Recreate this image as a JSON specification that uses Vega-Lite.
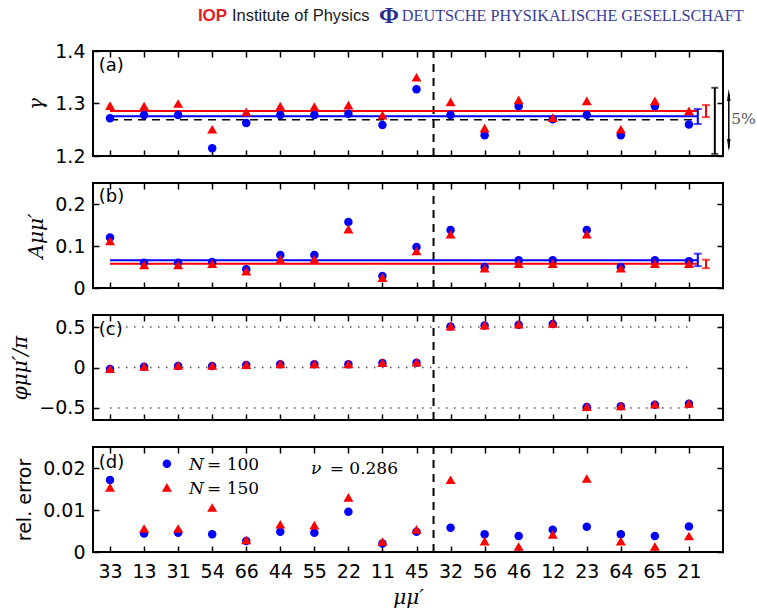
{
  "$schema": "https://vega.github.io/schema/vega-lite/v6.json",
  "padding": {"left": 9, "top": 2, "right": 0, "bottom": 0},
  "background": "white",
  "spacing": 27,
  "bounds": "flush",
  "config": {
    "view": {"stroke": "black", "strokeWidth": 2},
    "axis": {"domain": false, "grid": false, "tickColor": "black", "tickWidth": 1.5, "tickSize": -6,
      "labelFont": "DejaVu Sans", "labelFontSize": 19, "labelColor": "black", "labelPadding": 14,
      "titleFont": "DejaVu Serif", "titleFontSize": 20, "titleFontWeight": "normal", "titleColor": "black", "titlePadding": 8}
  },
  "datasets": {
    "pts": [
      {"i":0,"N":"100","g":1.272,"A":0.120,"p":-0.02,"e":0.01713},
      {"i":1,"N":"100","g":1.278,"A":0.060,"p":0.008,"e":0.0044},
      {"i":2,"N":"100","g":1.278,"A":0.060,"p":0.02,"e":0.0046},
      {"i":3,"N":"100","g":1.2146,"A":0.062,"p":0.02,"e":0.0042},
      {"i":4,"N":"100","g":1.263,"A":0.0444,"p":0.03,"e":0.0026},
      {"i":5,"N":"100","g":1.278,"A":0.0786,"p":0.04,"e":0.0048},
      {"i":6,"N":"100","g":1.278,"A":0.0786,"p":0.04,"e":0.0046},
      {"i":7,"N":"100","g":1.2806,"A":0.157,"p":0.04,"e":0.0096},
      {"i":8,"N":"100","g":1.259,"A":0.0286,"p":0.055,"e":0.002},
      {"i":9,"N":"100","g":1.327,"A":0.0976,"p":0.06,"e":0.0048},
      {"i":10,"N":"100","g":1.278,"A":0.138,"p":0.508,"e":0.0058},
      {"i":11,"N":"100","g":1.2394,"A":0.050,"p":0.52,"e":0.0042},
      {"i":12,"N":"100","g":1.295,"A":0.066,"p":0.53,"e":0.0038},
      {"i":13,"N":"100","g":1.270,"A":0.066,"p":0.54,"e":0.0053},
      {"i":14,"N":"100","g":1.278,"A":0.138,"p":-0.49,"e":0.006},
      {"i":15,"N":"100","g":1.2394,"A":0.050,"p":-0.48,"e":0.0042},
      {"i":16,"N":"100","g":1.295,"A":0.066,"p":-0.46,"e":0.0038},
      {"i":17,"N":"100","g":1.260,"A":0.064,"p":-0.45,"e":0.0061},
      {"i":0,"N":"150","g":1.296,"A":0.112,"p":-0.015,"e":0.0154},
      {"i":1,"N":"150","g":1.295,"A":0.055,"p":0.013,"e":0.0056},
      {"i":2,"N":"150","g":1.300,"A":0.055,"p":0.025,"e":0.0056},
      {"i":3,"N":"150","g":1.251,"A":0.058,"p":0.025,"e":0.0106},
      {"i":4,"N":"150","g":1.284,"A":0.040,"p":0.035,"e":0.0029},
      {"i":5,"N":"150","g":1.295,"A":0.068,"p":0.045,"e":0.0066},
      {"i":6,"N":"150","g":1.294,"A":0.068,"p":0.045,"e":0.0064},
      {"i":7,"N":"150","g":1.297,"A":0.140,"p":0.045,"e":0.0130},
      {"i":8,"N":"150","g":1.278,"A":0.0246,"p":0.06,"e":0.0025},
      {"i":9,"N":"150","g":1.350,"A":0.088,"p":0.065,"e":0.0054},
      {"i":10,"N":"150","g":1.303,"A":0.128,"p":0.513,"e":0.0172},
      {"i":11,"N":"150","g":1.253,"A":0.047,"p":0.525,"e":0.0026},
      {"i":12,"N":"150","g":1.307,"A":0.058,"p":0.535,"e":0.0013},
      {"i":13,"N":"150","g":1.273,"A":0.058,"p":0.545,"e":0.0042},
      {"i":14,"N":"150","g":1.305,"A":0.128,"p":-0.485,"e":0.0175},
      {"i":15,"N":"150","g":1.251,"A":0.047,"p":-0.475,"e":0.0026},
      {"i":16,"N":"150","g":1.305,"A":0.058,"p":-0.455,"e":0.0013},
      {"i":17,"N":"150","g":1.286,"A":0.058,"p":-0.445,"e":0.0038}
    ]
  },
  "vconcat": [
    {
      "width": 630, "height": 105,
      "resolve": {"axis": {"x": "independent", "y": "independent"}},
      "layer": [
        {"data": {"values": [{"i": 9.5, "lo": 1.2, "hi": 1.4}]},
         "mark": {"type": "rule", "strokeDash": [8, 6], "strokeWidth": 2, "color": "black"},
         "encoding": {
           "x": {"field": "i", "type": "quantitative", "scale": {"domain": [-0.5, 18], "nice": false, "zero": false}, "axis": {"orient": "top", "values": [0,1,2,3,4,5,6,7,8,9,10,11,12,13,14,15,16,17], "labels": false, "title": null}},
           "y": {"field": "lo", "type": "quantitative", "scale": {"domain": [1.2, 1.4], "nice": false, "zero": false}, "axis": {"orient": "right", "values": [1.2, 1.3, 1.4], "labels": false, "title": null}},
           "y2": {"field": "hi"}}},
        {"data": {"values": [{"x1": 0, "x2": 17.25, "v": 1.2756, "N": "100"}, {"x1": 0, "x2": 17.25, "v": 1.2857, "N": "150"}]},
         "mark": {"type": "rule", "strokeWidth": 2},
         "encoding": {
           "x": {"field": "x1", "type": "quantitative", "scale": {"domain": [-0.5, 18], "nice": false, "zero": false}, "axis": null},
           "x2": {"field": "x2"},
           "y": {"field": "v", "type": "quantitative", "scale": {"domain": [1.2, 1.4], "nice": false, "zero": false}, "axis": null},
           "color": {"field": "N", "type": "nominal", "scale": {"domain": ["100", "150"], "range": ["#0000ff", "#ff0000"]}, "legend": null}}},
        {"data": {"values": [{"x1": 0, "x2": 17.25, "v": 1.269}]},
         "mark": {"type": "rule", "strokeWidth": 1.5, "strokeDash": [8, 6], "color": "black"},
         "encoding": {
           "x": {"field": "x1", "type": "quantitative", "scale": {"domain": [-0.5, 18], "nice": false, "zero": false}, "axis": null},
           "x2": {"field": "x2"},
           "y": {"field": "v", "type": "quantitative", "scale": {"domain": [1.2, 1.4], "nice": false, "zero": false}, "axis": null}}},
        {"data": {"name": "pts"},
         "mark": {"type": "point", "filled": true, "opacity": 1, "strokeWidth": 0},
         "encoding": {
           "x": {"field": "i", "type": "quantitative", "scale": {"domain": [-0.5, 18], "nice": false, "zero": false}, "axis": {"orient": "bottom", "values": [0,1,2,3,4,5,6,7,8,9,10,11,12,13,14,15,16,17], "labels": false, "title": null}},
           "y": {"field": "g", "type": "quantitative", "scale": {"domain": [1.2, 1.4], "nice": false, "zero": false}, "axis": {"orient": "left", "values": [1.2, 1.3, 1.4], "format": ".1f", "title": "γ", "titleFontStyle": "italic"}},
           "color": {"field": "N", "type": "nominal", "scale": {"domain": ["100", "150"], "range": ["#0000ff", "#ff0000"]}, "legend": null},
           "shape": {"field": "N", "type": "nominal", "scale": {"domain": ["100", "150"], "range": ["circle", "triangle-up"]}, "legend": null},
           "size": {"field": "N", "type": "nominal", "scale": {"domain": ["100", "150"], "range": [72, 100]}, "legend": null}}},
        {"data": {"values": [{"x": 17.26, "lo": 1.261, "hi": 1.2895, "N": "100"}, {"x": 17.5, "lo": 1.274, "hi": 1.297, "N": "150"}]},
         "mark": {"type": "errorbar", "ticks": {"size": 8}, "thickness": 2},
         "encoding": {
           "x": {"field": "x", "type": "quantitative", "scale": {"domain": [-0.5, 18], "nice": false, "zero": false}, "axis": null},
           "y": {"field": "lo", "type": "quantitative", "scale": {"domain": [1.2, 1.4], "nice": false, "zero": false}, "axis": null},
           "y2": {"field": "hi"},
           "color": {"field": "N", "type": "nominal", "scale": {"domain": ["100", "150"], "range": ["#0000ff", "#ff0000"]}, "legend": null}}},
        {"data": {"values": [{"x": 17.76, "lo": 1.204, "hi": 1.33}]},
         "mark": {"type": "errorbar", "ticks": {"size": 7}, "thickness": 2, "color": "black"},
         "encoding": {
           "x": {"field": "x", "type": "quantitative", "scale": {"domain": [-0.5, 18], "nice": false, "zero": false}, "axis": null},
           "y": {"field": "lo", "type": "quantitative", "scale": {"domain": [1.2, 1.4], "nice": false, "zero": false}, "axis": null},
           "y2": {"field": "hi"}}},
        {"data": {"values": [{"x": 18.17, "lo": 1.215, "hi": 1.318}]},
         "mark": {"type": "rule", "strokeWidth": 1.5, "color": "black"},
         "encoding": {
           "x": {"field": "x", "type": "quantitative", "scale": {"domain": [-0.5, 18], "nice": false, "zero": false}, "axis": null},
           "y": {"field": "lo", "type": "quantitative", "scale": {"domain": [1.2, 1.4], "nice": false, "zero": false}, "axis": null},
           "y2": {"field": "hi"}}},
        {"data": {"values": [{"x": 18.17, "y": 1.3124}]},
         "mark": {"type": "point", "shape": "wedge", "filled": true, "size": 200, "color": "black", "opacity": 1, "strokeWidth": 0},
         "encoding": {
           "x": {"field": "x", "type": "quantitative", "scale": {"domain": [-0.5, 18], "nice": false, "zero": false}, "axis": null},
           "y": {"field": "y", "type": "quantitative", "scale": {"domain": [1.2, 1.4], "nice": false, "zero": false}, "axis": null}}},
        {"data": {"values": [{"x": 18.17, "y": 1.2248}]},
         "mark": {"type": "point", "shape": "wedge", "angle": 180, "filled": true, "size": 200, "color": "black", "opacity": 1, "strokeWidth": 0},
         "encoding": {
           "x": {"field": "x", "type": "quantitative", "scale": {"domain": [-0.5, 18], "nice": false, "zero": false}, "axis": null},
           "y": {"field": "y", "type": "quantitative", "scale": {"domain": [1.2, 1.4], "nice": false, "zero": false}, "axis": null}}},
        {"data": {"values": [{"x": 18.6, "y": 1.27, "t": "5%"}]},
         "mark": {"type": "text", "font": "DejaVu Serif", "fontSize": 15.5, "color": "#555555", "align": "center", "baseline": "middle"},
         "encoding": {
           "x": {"field": "x", "type": "quantitative", "scale": {"domain": [-0.5, 18], "nice": false, "zero": false}, "axis": null},
           "y": {"field": "y", "type": "quantitative", "scale": {"domain": [1.2, 1.4], "nice": false, "zero": false}, "axis": null},
           "text": {"field": "t"}}},
        {"data": {"values": [{"x": -0.33, "y": 1.371, "t": "(a)"}]},
         "mark": {"type": "text", "font": "DejaVu Sans", "fontSize": 18, "color": "black", "align": "left", "baseline": "middle"},
         "encoding": {
           "x": {"field": "x", "type": "quantitative", "scale": {"domain": [-0.5, 18], "nice": false, "zero": false}, "axis": null},
           "y": {"field": "y", "type": "quantitative", "scale": {"domain": [1.2, 1.4], "nice": false, "zero": false}, "axis": null},
           "text": {"field": "t"}}},
        {"data": {"values": [{"x": 2.58, "y": 1.4667, "t": "IOP"}]},
         "mark": {"type": "text", "font": "Liberation Sans", "fontSize": 17, "fontWeight": "bold", "color": "#e31e26", "align": "left", "baseline": "middle"},
         "encoding": {
           "x": {"field": "x", "type": "quantitative", "scale": {"domain": [-0.5, 18], "nice": false, "zero": false}, "axis": null},
           "y": {"field": "y", "type": "quantitative", "scale": {"domain": [1.2, 1.4], "nice": false, "zero": false}, "axis": null},
           "text": {"field": "t"}}},
        {"data": {"values": [{"x": 3.58, "y": 1.4667, "t": "Institute of Physics"}]},
         "mark": {"type": "text", "font": "Liberation Sans", "fontSize": 16.5, "color": "#1a1a1a", "align": "left", "baseline": "middle"},
         "encoding": {
           "x": {"field": "x", "type": "quantitative", "scale": {"domain": [-0.5, 18], "nice": false, "zero": false}, "axis": null},
           "y": {"field": "y", "type": "quantitative", "scale": {"domain": [1.2, 1.4], "nice": false, "zero": false}, "axis": null},
           "text": {"field": "t"}}},
        {"data": {"values": [{"x": 8.19, "y": 1.4667, "t": "Φ"}]},
         "mark": {"type": "text", "font": "Liberation Serif", "fontSize": 24, "fontWeight": "bold", "color": "#2b2f8f", "align": "center", "baseline": "middle"},
         "encoding": {
           "x": {"field": "x", "type": "quantitative", "scale": {"domain": [-0.5, 18], "nice": false, "zero": false}, "axis": null},
           "y": {"field": "y", "type": "quantitative", "scale": {"domain": [1.2, 1.4], "nice": false, "zero": false}, "axis": null},
           "text": {"field": "t"}}},
        {"data": {"values": [{"x": 8.57, "y": 1.4667, "t": "DEUTSCHE PHYSIKALISCHE GESELLSCHAFT"}]},
         "mark": {"type": "text", "font": "Liberation Serif", "fontSize": 16.2, "color": "#3a3d99", "align": "left", "baseline": "middle"},
         "encoding": {
           "x": {"field": "x", "type": "quantitative", "scale": {"domain": [-0.5, 18], "nice": false, "zero": false}, "axis": null},
           "y": {"field": "y", "type": "quantitative", "scale": {"domain": [1.2, 1.4], "nice": false, "zero": false}, "axis": null},
           "text": {"field": "t"}}}
      ]
    },
    {
      "width": 630, "height": 105,
      "resolve": {"axis": {"x": "independent", "y": "independent"}},
      "layer": [
        {"data": {"values": [{"i": 9.5, "lo": 0, "hi": 0.25}]},
         "mark": {"type": "rule", "strokeDash": [8, 6], "strokeWidth": 2, "color": "black"},
         "encoding": {
           "x": {"field": "i", "type": "quantitative", "scale": {"domain": [-0.5, 18], "nice": false, "zero": false}, "axis": {"orient": "top", "values": [0,1,2,3,4,5,6,7,8,9,10,11,12,13,14,15,16,17], "labels": false, "title": null}},
           "y": {"field": "lo", "type": "quantitative", "scale": {"domain": [0, 0.25], "nice": false, "zero": false}, "axis": {"orient": "right", "values": [0, 0.1, 0.2], "labels": false, "title": null}},
           "y2": {"field": "hi"}}},
        {"data": {"values": [{"x1": 0, "x2": 17.25, "v": 0.066, "N": "100"}, {"x1": 0, "x2": 17.25, "v": 0.058, "N": "150"}]},
         "mark": {"type": "rule", "strokeWidth": 2},
         "encoding": {
           "x": {"field": "x1", "type": "quantitative", "scale": {"domain": [-0.5, 18], "nice": false, "zero": false}, "axis": null},
           "x2": {"field": "x2"},
           "y": {"field": "v", "type": "quantitative", "scale": {"domain": [0, 0.25], "nice": false, "zero": false}, "axis": null},
           "color": {"field": "N", "type": "nominal", "scale": {"domain": ["100", "150"], "range": ["#0000ff", "#ff0000"]}, "legend": null}}},
        {"data": {"name": "pts"},
         "mark": {"type": "point", "filled": true, "opacity": 1, "strokeWidth": 0},
         "encoding": {
           "x": {"field": "i", "type": "quantitative", "scale": {"domain": [-0.5, 18], "nice": false, "zero": false}, "axis": {"orient": "bottom", "values": [0,1,2,3,4,5,6,7,8,9,10,11,12,13,14,15,16,17], "labels": false, "title": null}},
           "y": {"field": "A", "type": "quantitative", "scale": {"domain": [0, 0.25], "nice": false, "zero": false}, "axis": {"orient": "left", "values": [0, 0.1, 0.2], "labelExpr": "datum.value == 0 ? '0' : format(datum.value, '.1f')", "title": "Aμμ′", "titleFontStyle": "italic"}},
           "color": {"field": "N", "type": "nominal", "scale": {"domain": ["100", "150"], "range": ["#0000ff", "#ff0000"]}, "legend": null},
           "shape": {"field": "N", "type": "nominal", "scale": {"domain": ["100", "150"], "range": ["circle", "triangle-up"]}, "legend": null},
           "size": {"field": "N", "type": "nominal", "scale": {"domain": ["100", "150"], "range": [72, 100]}, "legend": null}}},
        {"data": {"values": [{"x": 17.26, "lo": 0.052, "hi": 0.0817, "N": "100"}, {"x": 17.5, "lo": 0.047, "hi": 0.0674, "N": "150"}]},
         "mark": {"type": "errorbar", "ticks": {"size": 8}, "thickness": 2},
         "encoding": {
           "x": {"field": "x", "type": "quantitative", "scale": {"domain": [-0.5, 18], "nice": false, "zero": false}, "axis": null},
           "y": {"field": "lo", "type": "quantitative", "scale": {"domain": [0, 0.25], "nice": false, "zero": false}, "axis": null},
           "y2": {"field": "hi"},
           "color": {"field": "N", "type": "nominal", "scale": {"domain": ["100", "150"], "range": ["#0000ff", "#ff0000"]}, "legend": null}}},
        {"data": {"values": [{"x": -0.33, "y": 0.2167, "t": "(b)"}]},
         "mark": {"type": "text", "font": "DejaVu Sans", "fontSize": 18, "color": "black", "align": "left", "baseline": "middle"},
         "encoding": {
           "x": {"field": "x", "type": "quantitative", "scale": {"domain": [-0.5, 18], "nice": false, "zero": false}, "axis": null},
           "y": {"field": "y", "type": "quantitative", "scale": {"domain": [0, 0.25], "nice": false, "zero": false}, "axis": null},
           "text": {"field": "t"}}}
      ]
    },
    {
      "width": 630, "height": 105,
      "resolve": {"axis": {"x": "independent", "y": "independent"}},
      "layer": [
        {"data": {"values": [{"i": 9.5, "lo": -0.65, "hi": 0.65}]},
         "mark": {"type": "rule", "strokeDash": [8, 6], "strokeWidth": 2, "color": "black"},
         "encoding": {
           "x": {"field": "i", "type": "quantitative", "scale": {"domain": [-0.5, 18], "nice": false, "zero": false}, "axis": {"orient": "top", "values": [0,1,2,3,4,5,6,7,8,9,10,11,12,13,14,15,16,17], "labels": false, "title": null}},
           "y": {"field": "lo", "type": "quantitative", "scale": {"domain": [-0.65, 0.65], "nice": false, "zero": false}, "axis": {"orient": "right", "values": [-0.5, 0, 0.5], "labels": false, "title": null}},
           "y2": {"field": "hi"}}},
        {"data": {"values": [{"x1": 0, "x2": 17, "v": 0.5}, {"x1": 0, "x2": 17, "v": 0}, {"x1": 0, "x2": 17, "v": -0.5}]},
         "mark": {"type": "rule", "strokeWidth": 1.5, "strokeDash": [1.5, 6.5], "color": "#555555"},
         "encoding": {
           "x": {"field": "x1", "type": "quantitative", "scale": {"domain": [-0.5, 18], "nice": false, "zero": false}, "axis": null},
           "x2": {"field": "x2"},
           "y": {"field": "v", "type": "quantitative", "scale": {"domain": [-0.65, 0.65], "nice": false, "zero": false}, "axis": null}}},
        {"data": {"name": "pts"},
         "mark": {"type": "point", "filled": true, "opacity": 1, "strokeWidth": 0},
         "encoding": {
           "x": {"field": "i", "type": "quantitative", "scale": {"domain": [-0.5, 18], "nice": false, "zero": false}, "axis": {"orient": "bottom", "values": [0,1,2,3,4,5,6,7,8,9,10,11,12,13,14,15,16,17], "labels": false, "title": null}},
           "y": {"field": "p", "type": "quantitative", "scale": {"domain": [-0.65, 0.65], "nice": false, "zero": false}, "axis": {"orient": "left", "values": [-0.5, 0, 0.5], "labelExpr": "datum.value == 0 ? '0' : format(datum.value, '.1f')", "title": "φμμ′/π", "titleFontStyle": "italic"}},
           "color": {"field": "N", "type": "nominal", "scale": {"domain": ["100", "150"], "range": ["#0000ff", "#ff0000"]}, "legend": null},
           "shape": {"field": "N", "type": "nominal", "scale": {"domain": ["100", "150"], "range": ["circle", "triangle-up"]}, "legend": null},
           "size": {"field": "N", "type": "nominal", "scale": {"domain": ["100", "150"], "range": [72, 100]}, "legend": null}}},
        {"data": {"values": [{"x": -0.33, "y": 0.463, "t": "(c)"}]},
         "mark": {"type": "text", "font": "DejaVu Sans", "fontSize": 18, "color": "black", "align": "left", "baseline": "middle"},
         "encoding": {
           "x": {"field": "x", "type": "quantitative", "scale": {"domain": [-0.5, 18], "nice": false, "zero": false}, "axis": null},
           "y": {"field": "y", "type": "quantitative", "scale": {"domain": [-0.65, 0.65], "nice": false, "zero": false}, "axis": null},
           "text": {"field": "t"}}}
      ]
    },
    {
      "width": 630, "height": 105,
      "resolve": {"axis": {"x": "independent", "y": "independent"}},
      "layer": [
        {"data": {"values": [{"i": 9.5, "lo": 0, "hi": 0.025}]},
         "mark": {"type": "rule", "strokeDash": [8, 6], "strokeWidth": 2, "color": "black"},
         "encoding": {
           "x": {"field": "i", "type": "quantitative", "scale": {"domain": [-0.5, 18], "nice": false, "zero": false}, "axis": {"orient": "top", "values": [0,1,2,3,4,5,6,7,8,9,10,11,12,13,14,15,16,17], "labels": false, "title": null}},
           "y": {"field": "lo", "type": "quantitative", "scale": {"domain": [0, 0.025], "nice": false, "zero": false}, "axis": {"orient": "right", "values": [0, 0.01, 0.02], "labels": false, "title": null}},
           "y2": {"field": "hi"}}},
        {"data": {"name": "pts"},
         "mark": {"type": "point", "filled": true, "opacity": 1, "strokeWidth": 0},
         "encoding": {
           "x": {"field": "i", "type": "quantitative", "scale": {"domain": [-0.5, 18], "nice": false, "zero": false}, "axis": {"orient": "bottom", "values": [0,1,2,3,4,5,6,7,8,9,10,11,12,13,14,15,16,17], "labelExpr": "['33','13','31','54','66','44','55','22','11','45','32','56','46','12','23','64','65','21'][datum.value]", "labelPadding": 16, "title": "μμ′", "titleFontStyle": "italic", "titlePadding": 6}},
           "y": {"field": "e", "type": "quantitative", "scale": {"domain": [0, 0.025], "nice": false, "zero": false}, "axis": {"orient": "left", "values": [0, 0.01, 0.02], "labelExpr": "datum.value == 0 ? '0' : format(datum.value, '.2f')", "title": "rel. error", "titleFont": "DejaVu Sans", "titleFontSize": 19}},
           "color": {"field": "N", "type": "nominal", "scale": {"domain": ["100", "150"], "range": ["#0000ff", "#ff0000"]}, "legend": null},
           "shape": {"field": "N", "type": "nominal", "scale": {"domain": ["100", "150"], "range": ["circle", "triangle-up"]}, "legend": null},
           "size": {"field": "N", "type": "nominal", "scale": {"domain": ["100", "150"], "range": [72, 100]}, "legend": null}}},
        {"data": {"values": [{"i": 1.67, "e": 0.021, "N": "100"}, {"i": 1.67, "e": 0.01538, "N": "150"}]},
         "mark": {"type": "point", "filled": true, "opacity": 1, "strokeWidth": 0},
         "encoding": {
           "x": {"field": "i", "type": "quantitative", "scale": {"domain": [-0.5, 18], "nice": false, "zero": false}, "axis": null},
           "y": {"field": "e", "type": "quantitative", "scale": {"domain": [0, 0.025], "nice": false, "zero": false}, "axis": null},
           "color": {"field": "N", "type": "nominal", "scale": {"domain": ["100", "150"], "range": ["#0000ff", "#ff0000"]}, "legend": null},
           "shape": {"field": "N", "type": "nominal", "scale": {"domain": ["100", "150"], "range": ["circle", "triangle-up"]}, "legend": null},
           "size": {"field": "N", "type": "nominal", "scale": {"domain": ["100", "150"], "range": [72, 100]}, "legend": null}}},
        {"data": {"values": [{"x": 2.32, "y": 0.0207, "t": "N"}, {"x": 2.32, "y": 0.015, "t": "N"}, {"x": 5.9, "y": 0.0198, "t": "ν"}]},
         "mark": {"type": "text", "font": "DejaVu Serif", "fontSize": 17, "fontStyle": "italic", "color": "black", "align": "left", "baseline": "middle"},
         "encoding": {
           "x": {"field": "x", "type": "quantitative", "scale": {"domain": [-0.5, 18], "nice": false, "zero": false}, "axis": null},
           "y": {"field": "y", "type": "quantitative", "scale": {"domain": [0, 0.025], "nice": false, "zero": false}, "axis": null},
           "text": {"field": "t"}}},
        {"data": {"values": [{"x": 2.85, "y": 0.0207, "t": "= 100"}, {"x": 2.85, "y": 0.015, "t": "= 150"}, {"x": 6.45, "y": 0.0198, "t": "= 0.286"}]},
         "mark": {"type": "text", "font": "DejaVu Serif", "fontSize": 17, "color": "black", "align": "left", "baseline": "middle"},
         "encoding": {
           "x": {"field": "x", "type": "quantitative", "scale": {"domain": [-0.5, 18], "nice": false, "zero": false}, "axis": null},
           "y": {"field": "y", "type": "quantitative", "scale": {"domain": [0, 0.025], "nice": false, "zero": false}, "axis": null},
           "text": {"field": "t"}}},
        {"data": {"values": [{"x": -0.33, "y": 0.0213, "t": "(d)"}]},
         "mark": {"type": "text", "font": "DejaVu Sans", "fontSize": 18, "color": "black", "align": "left", "baseline": "middle"},
         "encoding": {
           "x": {"field": "x", "type": "quantitative", "scale": {"domain": [-0.5, 18], "nice": false, "zero": false}, "axis": null},
           "y": {"field": "y", "type": "quantitative", "scale": {"domain": [0, 0.025], "nice": false, "zero": false}, "axis": null},
           "text": {"field": "t"}}}
      ]
    }
  ]
}
